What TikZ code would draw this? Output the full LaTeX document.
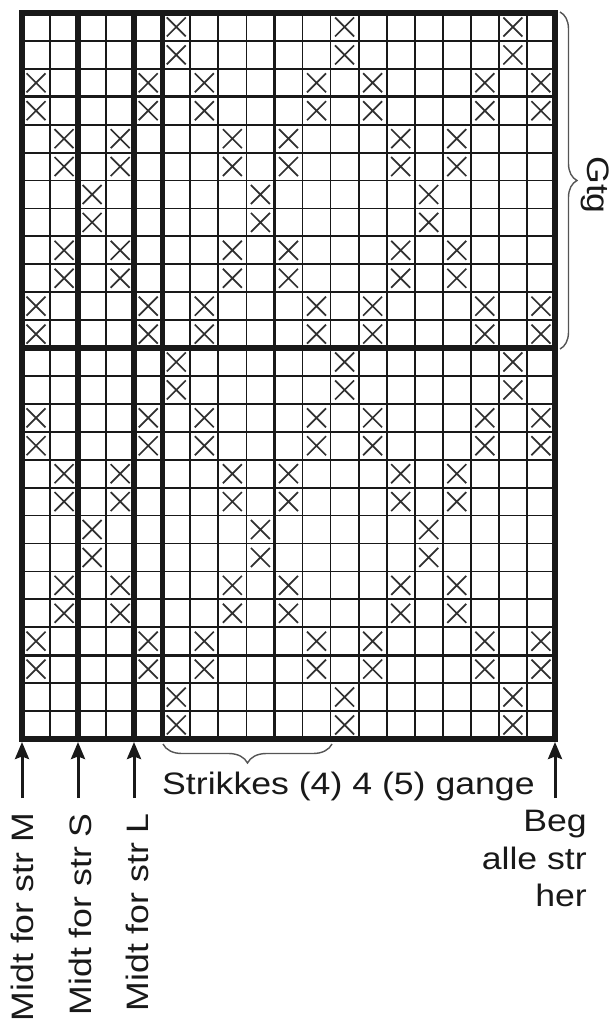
\documentclass[tikz,border=0pt]{standalone}
\usepackage{fontspec}
\setmainfont[FakeStretch=1.15]{Liberation Sans}
\usetikzlibrary{arrows.meta, decorations.pathreplacing}
\definecolor{ink}{RGB}{25,25,25}
\definecolor{bracegray}{RGB}{85,85,85}
\tikzset{
  thinrule/.style={line width=1.8pt, draw=ink},
  midrule/.style={line width=3pt, draw=ink},
  thickrule/.style={line width=5.5pt, draw=ink, line cap=rect},
  cross/.style={line width=1.7pt, draw=ink!90},
  lbl/.style={font=\fontsize{31}{37.5}\selectfont, inner sep=0pt, text=ink},
  arr/.style={-{Stealth[length=17pt, width=14pt, inset=2.5pt]}, line width=3pt, draw=ink},
  brc/.style={decorate, line width=1.4pt, draw=bracegray},
}

\begin{document}
\begin{tikzpicture}[x=1pt, y=-1pt]
  \useasboundingbox (0,0) rectangle (615,1028);

  \begin{scope}[shift={(22,13)}, x=28.05pt, y=-27.92pt]
    \foreach \c in {1,...,18} \draw[thinrule] (\c,0) -- (\c,26);
    \foreach \r in {1,...,25} \draw[thinrule] (0,\r) -- (19,\r);
    \foreach \r/\cols in {0/{5,11,17}, 2/{0,4,6,10,12,16,18}, 4/{1,3,7,9,13,15},
                          6/{2,8,14}, 8/{1,3,7,9,13,15}, 10/{0,4,6,10,12,16,18},
                          12/{5,11,17}, 14/{0,4,6,10,12,16,18}, 16/{1,3,7,9,13,15},
                          18/{2,8,14}, 20/{1,3,7,9,13,15}, 22/{0,4,6,10,12,16,18},
                          24/{5,11,17}}
      \foreach \c in \cols
        \foreach \dr in {0,1}
          \draw[cross] (\c+.5,\r+\dr+.5) +(-9.5pt,-9.5pt) -- +(9.5pt,9.5pt)
                                         +(-9.5pt,9.5pt) -- +(9.5pt,-9.5pt);
    \draw[midrule] (9,0) -- (9,26);
    \draw[midrule] (0,3) -- (19,3);
    \draw[midrule] (0,23) -- (19,23);
    \foreach \c in {2,4,5} \draw[thickrule] (\c,0) -- (\c,26);
    \draw[thickrule] (0,12) -- (19,12);
    \draw[thickrule] (0,0) rectangle (19,26);
  \end{scope}

  \coordinate (tipM)   at (22,742);
  \coordinate (tipS)   at (78,742);
  \coordinate (tipL)   at (134,742);
  \coordinate (tipBeg) at (555,742);
  \coordinate (tailM)   at (22,798);
  \coordinate (tailS)   at (78,798);
  \coordinate (tailL)   at (134,798);
  \coordinate (tailBeg) at (555,798);
  \coordinate (repR) at (332,744);
  \coordinate (repL) at (163,744);
  \coordinate (gtgT) at (560,12);
  \coordinate (gtgB) at (560,349);

  \node[lbl, rotate=90, anchor=base east]  (lblM)   at (33,813)  {Midt for str M};
  \node[lbl, rotate=90, anchor=base east]  (lblS)   at (91,813)  {Midt for str S};
  \node[lbl, rotate=90, anchor=base east]  (lblL)   at (148,813) {Midt for str L};
  \node[lbl, anchor=base west]             (lblRep) at (162,794) {Strikkes (4) 4 (5) gange};
  \node[lbl, align=right, anchor=north east] (lblBeg) at (587,810) {Beg\\alle str\\her};
  \node[lbl, rotate=-90, anchor=base]      (lblGtg) at (587,185) {Gtg};

  \draw[arr] (tailM)   -- (tipM);
  \draw[arr] (tailS)   -- (tipS);
  \draw[arr] (tailL)   -- (tipL);
  \draw[arr] (tailBeg) -- (tipBeg);
  \draw[brc, decoration={brace, amplitude=19pt}] (repR) -- (repL);
  \draw[brc, decoration={brace, amplitude=17pt}] (gtgT) -- (gtgB);
\end{tikzpicture}
\end{document}
